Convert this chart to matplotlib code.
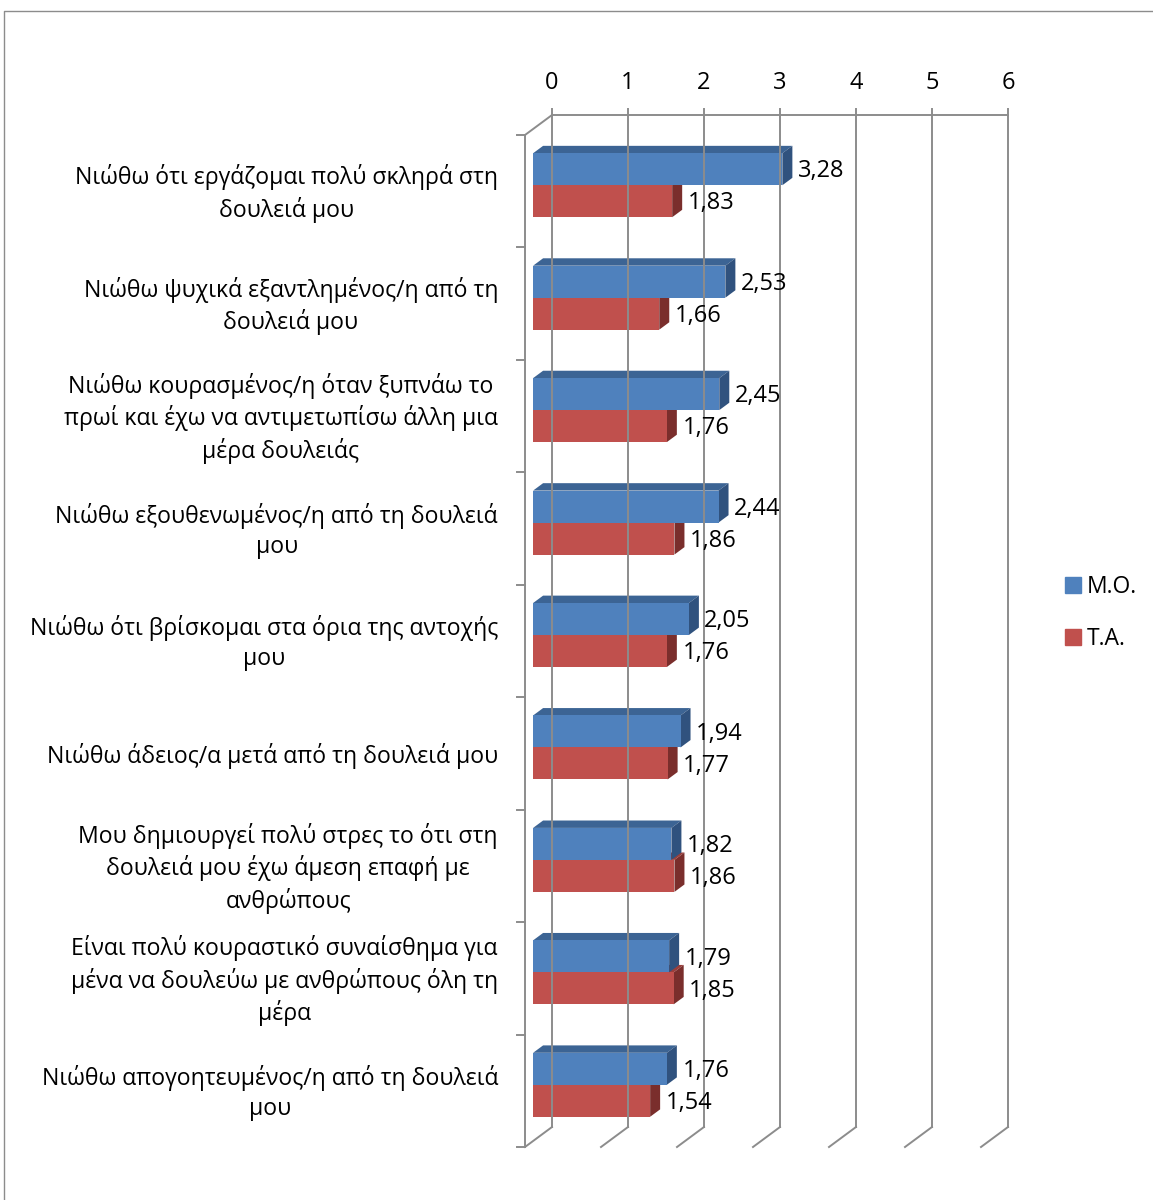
import numpy as np
import matplotlib
matplotlib.use('Agg')
from matplotlib import pyplot as plt
from matplotlib.patches import Polygon, Patch
from matplotlib.lines import Line2D

plt.rcParams['font.family'] = ['Open Sans', 'DejaVu Sans']

# κατηγορίες (από πάνω προς τα κάτω)
categories = [
    'Νιώθω ότι εργάζομαι πολύ σκληρά στη\nδουλειά μου',
    'Νιώθω ψυχικά εξαντλημένος/η από τη\nδουλειά μου',
    'Νιώθω κουρασμένος/η όταν ξυπνάω το\nπρωί και έχω να αντιμετωπίσω άλλη μια\nμέρα δουλειάς',
    'Νιώθω εξουθενωμένος/η από τη δουλειά\nμου',
    'Νιώθω ότι βρίσκομαι στα όρια της αντοχής\nμου',
    'Νιώθω άδειος/α μετά από τη δουλειά μου',
    'Μου δημιουργεί πολύ στρες το ότι στη\nδουλειά μου έχω άμεση επαφή με\nανθρώπους',
    'Είναι πολύ κουραστικό συναίσθημα για\nμένα να δουλεύω με ανθρώπους όλη τη\nμέρα',
    'Νιώθω απογοητευμένος/η από τη δουλειά\nμου',
]
mo = [3.28, 2.53, 2.45, 2.44, 2.05, 1.94, 1.82, 1.79, 1.76]
ta = [1.83, 1.66, 1.76, 1.86, 1.76, 1.77, 1.86, 1.85, 1.54]
ticks = [0, 1, 2, 3, 4, 5, 6]
series_names = ['Μ.Ο.', 'Τ.Α.']

blue = ('#4F81BD', '#3C6494', '#30527E')
red = ('#C0504D', '#9A3E3B', '#7A2E2C')
grid_c = '#8C8C8C'

W, H = 1153, 1200
fig = plt.figure(figsize=(W / 100, H / 100), dpi=100)
# μπροστινό επίπεδο δαπέδου: x=0 στα 525px, 76px ανά μονάδα
ax = fig.add_axes([525 / W, 1 - 1147 / H, 456 / W, 1012 / H])
ax.set_xlim(0, 6)
ax.set_ylim(8.5, -0.5)
ax.axis('off')

# βάθος 3Δ σε μονάδες δεδομένων
DX = 27 / 76
DY = -20 / 112.5
def shift(d):
    return DX * d, DY * d

n = len(categories)
top_back = -0.5 + DY
bot_back = 8.5 + DY

# πλέγμα στο πίσω επίπεδο
for t in ticks:
    ax.plot([t + DX, t + DX], [top_back - 6 / 112.5, bot_back], color=grid_c, lw=1.4, clip_on=False)
    ax.plot([t, t + DX], [8.5, bot_back], color=grid_c, lw=1.4, clip_on=False)
    ax.text(t + DX, -0.5 - 52 / 112.5, str(t), ha='center', va='center', fontsize=17, clip_on=False)
ax.plot([DX, 6 + DX], [top_back, top_back], color=grid_c, lw=1.4, clip_on=False)
# αριστερός τοίχος
ax.plot([0, 0], [-0.5, 8.5], color=grid_c, lw=1.4, clip_on=False)
ax.plot([0, DX], [-0.5, top_back], color=grid_c, lw=1.4, clip_on=False)
for k in range(n + 1):
    ax.plot([-8 / 76, 0], [k - 0.5, k - 0.5], color=grid_c, lw=1.4, clip_on=False)

d0, d1 = 0.3, 0.67
bh = 32 / 112.5

def bar3d(yc, v, cols):
    x0, y0 = shift(d0)
    x1, y1 = shift(d1)
    top = yc - bh / 2
    bot = yc + bh / 2
    front = [(x0, top + y0), (v + x0, top + y0), (v + x0, bot + y0), (x0, bot + y0)]
    lid = [(x0, top + y0), (v + x0, top + y0), (v + x1, top + y1), (x1, top + y1)]
    side = [(v + x0, top + y0), (v + x1, top + y1), (v + x1, bot + y1), (v + x0, bot + y0)]
    ax.add_patch(Polygon(lid, closed=True, fc=cols[1], ec='none', clip_on=False))
    ax.add_patch(Polygon(side, closed=True, fc=cols[2], ec='none', clip_on=False))
    ax.add_patch(Polygon(front, closed=True, fc=cols[0], ec='none', clip_on=False))

for i in range(n):
    yb = i - bh / 2
    yr = i + bh / 2
    bar3d(yr, ta[i], red)
    bar3d(yb, mo[i], blue)
    ox, oy = shift(d0)
    ax.text(ta[i] + 0.31, yr + oy + 0.02, '{:.2f}'.format(ta[i]).replace('.', ','),
            ha='left', va='center', fontsize=17, clip_on=False)
    ax.text(mo[i] + 0.31, yb + oy + 0.02, '{:.2f}'.format(mo[i]).replace('.', ','),
            ha='left', va='center', fontsize=17, clip_on=False)
    ax.text(-DX, i + 0.02, categories[i], ha='right', va='center', multialignment='center',
            fontsize=16.6, linespacing=1.33, clip_on=False)

handles = [Patch(color=blue[0]), Patch(color=red[0])]
fig.legend(handles, series_names, loc='center left', bbox_to_anchor=(1044 / W, 1 - 613 / H),
           frameon=False, fontsize=16.5, handlelength=0.7, handleheight=0.7,
           handletextpad=0.25, labelspacing=1.2)

# πλαίσιο
fig.add_artist(Line2D([4 / W, 4 / W, 1], [0, 1 - 11 / H, 1 - 11 / H], color='#8C8C8C', lw=1.0))

fig.savefig('out.png', dpi=100)
